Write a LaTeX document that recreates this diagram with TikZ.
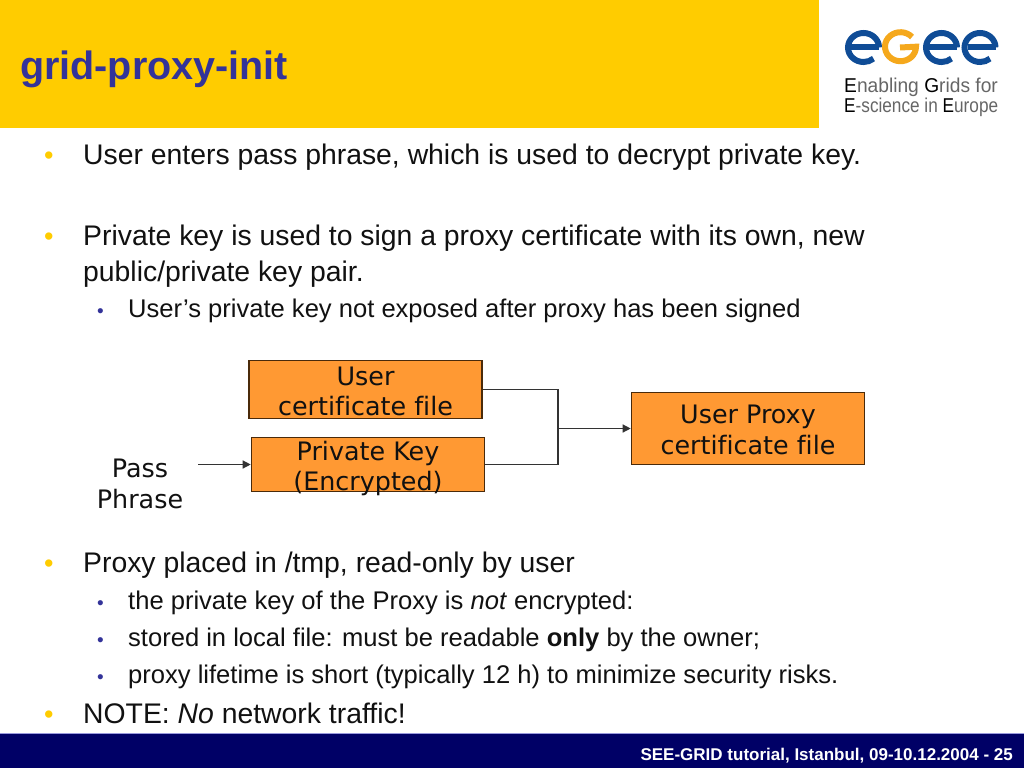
\documentclass[tikz,border=0pt]{standalone}
\usepackage{fontspec}
\setmainfont{Liberation Sans}
\newfontfamily\boxfont[Ligatures=NoCommon]{DejaVu Sans}
\usetikzlibrary{arrows.meta}
\definecolor{bandyellow}{HTML}{FFCC00}
\definecolor{titleblue}{HTML}{333399}
\definecolor{footnavy}{HTML}{000066}
\definecolor{footline}{HTML}{9999DD}
\definecolor{boxorange}{HTML}{FF9933}
\definecolor{boxedge}{HTML}{4A2A0A}
\definecolor{logoblue}{HTML}{0F4C96}
\definecolor{logogold}{HTML}{F5A81C}
\definecolor{logogray}{HTML}{666666}
\definecolor{bodytext}{HTML}{111111}
\newcommand{\boxlines}[3]{\raisebox{#1}[0pt][0pt]{\begin{tabular}{@{}c@{}}#2\\#3\end{tabular}}}
\tikzset{
  lvlone/.style={anchor=base west,inner sep=0pt,font=\fontsize{28.35}{28.35}\selectfont,text=bodytext},
  lvltwo/.style={anchor=base west,inner sep=0pt,font=\fontsize{25.56}{25.56}\selectfont,text=bodytext},
  dotone/.style={anchor=base west,inner sep=0pt,font=\fontsize{27}{27}\selectfont,text=bandyellow},
  dottwo/.style={anchor=base west,inner sep=0pt,font=\fontsize{19}{19}\selectfont,text=titleblue},
  filebox/.style={draw=boxedge,fill=boxorange,line width=1.6pt,inner sep=0pt,text=bodytext,
    font=\boxfont\fontsize{25.4}{30.5}\selectfont},
  plainlabel/.style={inner sep=0pt,align=center,text=bodytext,font=\boxfont\fontsize{25.4}{31}\selectfont},
  wire/.style={draw=black!80,line width=1.3pt},
  wirearrow/.style={wire,-{Triangle[length=8pt,width=8pt]}},
  logoring/.style={line width=6pt,line cap=butt},
  logotext/.style={anchor=base west,inner sep=0pt,text=logogray,font=\fontsize{20}{20}\selectfont},
}
\begin{document}
\begin{tikzpicture}[x=1pt,y=-1pt]
\useasboundingbox (0,0) rectangle (1024,768);
\fill[white] (0,0) rectangle (1024,768);
\fill[bandyellow] (0,0) rectangle (819,128);
\fill[footnavy] (0,733) rectangle (1024,768);
\fill[footline] (0,732.5) rectangle (1024,734);
\node[anchor=base west,inner sep=0pt,text=titleblue,font=\bfseries\fontsize{39.5}{39.5}\selectfont] (title) at (20,79) {grid-proxy-init};
\node[anchor=base east,inner sep=0pt,text=white,font=\bfseries\fontsize{17}{17}\selectfont] (foot) at (1013,760) {SEE-GRID tutorial, Istanbul, 09-10.12.2004 - 25};

% logo
\draw[logoring,logoblue] (850,47.5) -- (879,47.5);
\draw[logoring,logoblue] (879,47.5) arc[start angle=0,delta angle=-310,x radius=15.5,y radius=14.5];
\draw[logoring,logogold] (912,37) arc[start angle=-42,delta angle=-318,x radius=15.5,y radius=14.5] -- (900,47.5);
\draw[logoring,logoblue] (929,47.5) -- (957,47.5);
\draw[logoring,logoblue] (957,47.5) arc[start angle=0,delta angle=-310,x radius=15.5,y radius=14.5];
\draw[logoring,logoblue] (968,47.5) -- (995.5,47.5);
\draw[logoring,logoblue] (995.5,47.5) arc[start angle=0,delta angle=-310,x radius=15.5,y radius=14.5];
\node[logotext] (logoa) at (844,92) {\scalebox{0.96}[1]{\textcolor{black}{E}nabling \textcolor{black}{G}rids for}};
\node[logotext] (logob) at (844,112) {\scalebox{0.86}[1]{\textcolor{black}{E}-science in \textcolor{black}{E}urope}};

% text
\node[dotone] (d1) at (44,164) {•};
\node[lvlone] (t1) at (83,164) {User enters pass phrase, which is used to decrypt private key.};
\node[dotone] (d2) at (44,245) {•};
\node[lvlone] (t2) at (83,245) {Private key is used to sign a proxy certificate with its own, new};
\node[lvlone] (t2b) at (83,281) {public/private key pair.};
\node[dottwo] (d3) at (97,317) {•};
\node[lvltwo] (t3) at (128,317) {User’s private key not exposed after proxy has been signed};
\node[dotone] (d4) at (44,572) {•};
\node[lvlone] (t4) at (83,572) {Proxy placed in /tmp, read-only by user};
\node[dottwo] (d5) at (97,609) {•};
\node[lvltwo] (t5) at (128,609) {the private key of the Proxy is \textit{not} encrypted:};
\node[dottwo] (d6) at (97,646) {•};
\node[lvltwo] (t6) at (128,646) {stored in local file: must be readable \textbf{only} by the owner;};
\node[dottwo] (d7) at (97,683) {•};
\node[lvltwo] (t7) at (128,683) {proxy lifetime is short (typically 12 h) to minimize security risks.};
\node[dotone] (d8) at (44,723) {•};
\node[lvlone] (t8) at (83,723) {NOTE: \textit{No} network traffic!};

% diagram
\node[filebox,minimum width=233pt,minimum height=58pt] (cert) at (365.5,389.5) {\boxlines{-11.15pt}{User}{certificate file}};
\node[filebox,minimum width=233pt,minimum height=54pt] (key) at (368,464.5) {\boxlines{-11.15pt}{Private Key}{(Encrypted)}};
\node[filebox,minimum width=233pt,minimum height=72pt] (proxy) at (748,428.5) {\boxlines{-10.85pt}{User Proxy}{certificate file}};
\node[plainlabel] (pass) at (140,484) {Pass\\Phrase};
\coordinate (merge) at (558,428.5);
\coordinate (passout) at (198,464.5);
\draw[wire] (cert.east) -| (merge) |- (key.east);
\draw[wirearrow] (merge) -- (proxy.west);
\draw[wirearrow] (passout) -- (key.west);
\end{tikzpicture}
\end{document}
